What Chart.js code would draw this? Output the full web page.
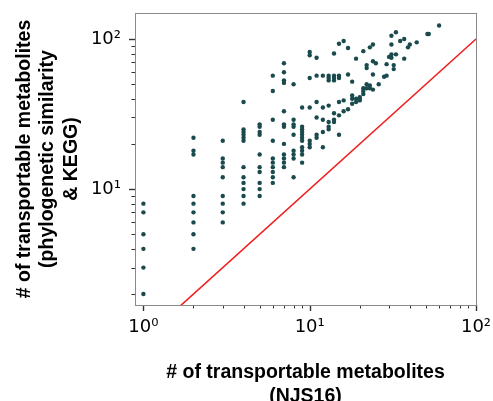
<!DOCTYPE html>
<html>
<head>
<meta charset="utf-8">
<script src="https://cdn.jsdelivr.net/npm/chart.js@4/dist/chart.umd.min.js"></script>
<style>
  body { margin: 0; background: #fff; }
</style>
</head>
<body>
<canvas id="scatterChart" width="493" height="401"></canvas>
<script>
// transportable metabolite counts, one entry per organism
// x = NJS16, y = phylogenetic similarity & KEGG
const njsCounts = [
  1, 1, 1, 1, 1, 1,
  2, 2, 2, 2, 2, 2, 2, 2, 2,
  3, 3, 3, 3, 3, 3, 3, 3, 3,
  4, 4, 4, 4, 4, 4, 4, 4, 4, 4, 4, 4,
  5, 5, 5, 5, 5, 5, 5, 5, 5, 5,
  6, 6, 6, 6, 6, 6, 6, 6, 6, 6,
  7, 7, 7, 7, 7, 7, 7, 7, 7, 7, 7, 7,
  8, 8, 8, 8, 8, 8, 8, 8, 8,
  9, 9, 9, 9, 9, 9, 9, 9, 9, 9, 9,
  10, 10, 10, 10, 10, 10, 10,
  11, 11, 11, 11, 11, 11,
  12, 12, 12, 12, 12,
  13, 13, 13, 13, 13, 13, 13,
  14, 14, 14, 14, 14, 14, 14,
  15, 15, 15, 15, 15, 15,
  16, 16, 16,
  17, 17, 17,
  18, 18, 18, 18,
  19, 19, 19,
  20, 20, 20,
  21, 21, 21, 21,
  22, 22, 22, 22,
  23, 23, 23,
  24, 24, 24, 24,
  25, 26, 28, 29, 29, 30,
  31, 31, 31, 31,
  32, 32, 33, 33, 35, 37, 37,
  39, 40, 44, 51, 52, 60
];
const keggCounts = [
  8, 7, 5, 4, 3, 2,
  22, 18, 17, 9, 8, 7, 6, 5, 4,
  21, 16, 15, 14, 12, 9, 8, 7, 6,
  38, 25, 24, 23, 22, 21, 14, 12, 11, 10, 9, 8,
  27, 26, 24, 23, 17, 14, 13, 11, 10, 9,
  57, 45, 29, 21, 16, 15, 14, 13, 12, 11,
  69, 60, 53, 51, 33, 27, 26, 20, 17, 16, 15, 14,
  50, 29, 27, 26, 23, 18, 17, 16, 12,
  35, 26, 25, 24, 23, 22, 21, 19, 18, 17, 15,
  82, 78, 55, 35, 21, 20, 19,
  75, 57, 38, 30, 23, 22,
  57, 35, 29, 24, 19,
  57, 55, 53, 36, 28, 26, 25,
  80, 57, 55, 53, 32, 29, 28,
  93, 57, 55, 38, 31, 23,
  97, 39, 33,
  87, 58, 34,
  52, 42, 40, 37,
  74, 40, 38,
  41, 40, 39,
  83, 47, 45, 43,
  67, 64, 50, 47,
  88, 49, 47,
  92, 71, 58, 46,
  69, 50, 56, 68, 57, 76,
  105, 92, 79, 75,
  67, 63, 111, 79, 97, 100, 74,
  88, 92, 95, 108, 108, 123
];

// y = x reference line
const refX = [1, 100];
const refY = [1, 100];

// axis ticks
const xMinorTicks = [2, 3, 4, 5, 6, 7, 8, 9, 20, 30, 40, 50, 60, 70, 80, 90];
const xMajorTicks = [1, 10, 100];
const xTickLabels = ['10\u2070', '10\u00b9', '10\u00b2'];
const yMinorTicks = [2, 3, 4, 5, 6, 7, 8, 9, 20, 30, 40, 50, 60, 70, 80, 90];
const yMajorTicks = [10, 100];
const yTickLabels = ['10\u00b9', '10\u00b2'];

const points = njsCounts.map((v, i) => ({ x: v, y: keggCounts[i] }));
const refLine = refX.map((v, i) => ({ x: v, y: refY[i] }));

function tickList(major, minor) {
  return major.map(v => ({ value: v, major: true }))
    .concat(minor.map(v => ({ value: v, major: false })))
    .sort((a, b) => a.value - b.value);
}

// matplotlib style frame with outward major/minor tick marks
const frameTicks = {
  id: 'frameTicks',
  afterDraw(chart) {
    const { ctx, chartArea: a, scales: { x, y } } = chart;
    ctx.save();
    ctx.strokeStyle = '#333';
    x.ticks.forEach(t => {
      const px = Math.round(x.getPixelForValue(t.value)) + 0.5;
      ctx.lineWidth = t.major ? 1.4 : 1;
      ctx.beginPath();
      ctx.moveTo(px, a.bottom);
      ctx.lineTo(px, a.bottom + (t.major ? 6 : 3.5));
      ctx.stroke();
    });
    y.ticks.forEach(t => {
      const py = Math.round(y.getPixelForValue(t.value)) + 0.5;
      ctx.lineWidth = t.major ? 1.4 : 1;
      ctx.beginPath();
      ctx.moveTo(a.left, py);
      ctx.lineTo(a.left - (t.major ? 6 : 3.5), py);
      ctx.stroke();
    });
    ctx.strokeStyle = '#8a8a8a';
    ctx.lineWidth = 1;
    ctx.strokeRect(a.left + 0.5, a.top + 0.5, a.right - a.left, a.bottom - a.top);
    ctx.restore();
  }
};

const titleFont = { family: 'Liberation Sans, Arial, sans-serif', size: 19.5, weight: 'bold' };
const tickFont = { family: 'DejaVu Sans', size: 18 };

new Chart(document.getElementById('scatterChart'), {
  type: 'scatter',
  data: {
    datasets: [{
      data: points,
      pointRadius: 2.2,
      pointHoverRadius: 2.2,
      pointBackgroundColor: '#1b4a4d',
      pointBorderWidth: 0,
      order: 1
    }, {
      type: 'line',
      data: refLine,
      borderColor: '#f02020',
      borderWidth: 1.6,
      pointRadius: 0,
      fill: false,
      order: 2
    }]
  },
  options: {
    responsive: false,
    animation: false,
    devicePixelRatio: 1,
    layout: { padding: { top: 13, right: 17, left: 0, bottom: 0 } },
    plugins: { legend: { display: false }, tooltip: { enabled: false } },
    scales: {
      x: {
        type: 'logarithmic',
        min: 0.89,
        max: 100,
        grid: { display: false, drawTicks: false },
        border: { display: false },
        afterBuildTicks: s => { s.ticks = tickList(xMajorTicks, xMinorTicks); },
        afterFit: s => {
          s.height = 96;
          s.paddingLeft = 0;
          s.paddingRight = 0;
        },
        ticks: {
          autoSkip: false,
          maxRotation: 0,
          padding: 12,
          color: '#000',
          font: tickFont,
          callback: v => {
            const i = xMajorTicks.indexOf(v);
            return i >= 0 ? xTickLabels[i] : '';
          }
        },
        title: {
          display: true,
          text: ['# of transportable metabolites', '(NJS16)'],
          color: '#000',
          font: titleFont,
          padding: { top: 0, bottom: -7 }
        }
      },
      y: {
        type: 'logarithmic',
        min: 1.69,
        max: 149,
        grid: { display: false, drawTicks: false },
        border: { display: false },
        afterBuildTicks: s => { s.ticks = tickList(yMajorTicks, yMinorTicks); },
        afterFit: s => {
          s.width = 135;
          s.paddingTop = 0;
          s.paddingBottom = 0;
        },
        ticks: {
          autoSkip: false,
          padding: 14,
          color: '#000',
          font: tickFont,
          callback: v => {
            const i = yMajorTicks.indexOf(v);
            return i >= 0 ? yTickLabels[i] : '';
          }
        },
        title: {
          display: true,
          text: ['# of transportable metabolites', '(phylogenetic similarity', '& KEGG)'],
          color: '#000',
          font: titleFont,
          padding: { top: 13, bottom: 0 }
        }
      }
    }
  },
  plugins: [frameTicks]
});
</script>
</body>
</html>
